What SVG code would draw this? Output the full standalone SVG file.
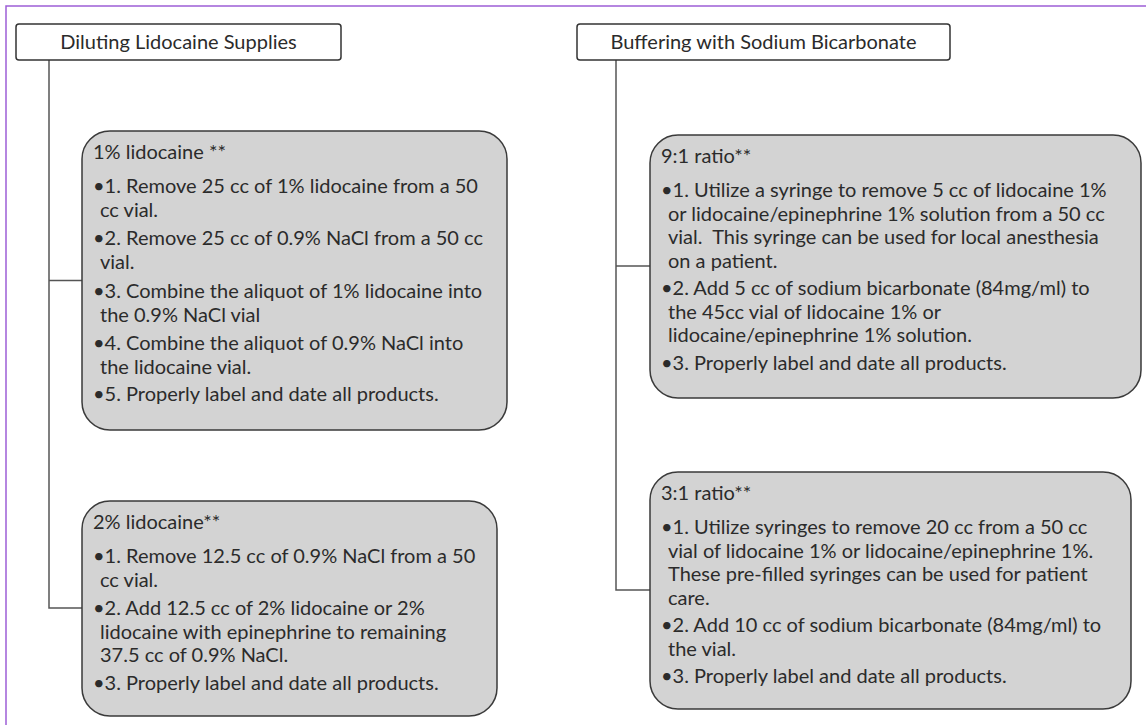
<svg xmlns="http://www.w3.org/2000/svg" width="1146" height="725" viewBox="0 0 1146 725">
<style>
.t{font-family:Lato,"Open Sans","Liberation Sans",sans-serif;font-size:20px;fill:#2b2b2b}
.hd{fill:#ffffff;stroke:#333333;stroke-width:1.5}
.bx{fill:#d3d3d3;stroke:#3a3a3a;stroke-width:1.5}
.cn{fill:none;stroke:#555555;stroke-width:1.5}
.bd{fill:none;stroke:#9d5fd6;stroke-width:1.5}
</style>
<rect x="0" y="0" width="1146" height="725" fill="#ffffff"/>
<path class="bd" d="M6,725 V6 H1146"/>
<g id="connectors">
<path class="cn" d="M49,60 V608 H82 M49,280.5 H82"/>
<path class="cn" d="M616,60 V590 H650 M616,266 H650"/>
</g>
<g id="header-left">
<rect class="hd" x="16" y="24" width="325" height="36" rx="3"/>
<text class="t" x="178.5" y="48.5" text-anchor="middle">Diluting Lidocaine Supplies</text>
</g>
<g id="header-right">
<rect class="hd" x="577" y="24" width="373" height="36" rx="3"/>
<text class="t" x="763.5" y="48.5" text-anchor="middle">Buffering with Sodium Bicarbonate</text>
</g>
<g id="box-1pct">
<rect class="bx" x="82" y="131" width="425" height="299" rx="28"/>
<text class="t" x="93" y="159">1% lidocaine **</text>
<text class="t" x="93" y="193">•1. Remove 25 cc of 1% lidocaine from a 50</text>
<text class="t" x="100" y="217">cc vial.</text>
<text class="t" x="93" y="245">•2. Remove 25 cc of 0.9% NaCl from a 50 cc</text>
<text class="t" x="100" y="269">vial.</text>
<text class="t" x="93" y="298">•3. Combine the aliquot of 1% lidocaine into</text>
<text class="t" x="100" y="322">the 0.9% NaCl vial</text>
<text class="t" x="93" y="350">•4. Combine the aliquot of 0.9% NaCl into</text>
<text class="t" x="100" y="374">the lidocaine vial.</text>
<text class="t" x="93" y="401">•5. Properly label and date all products.</text>
</g>
<g id="box-2pct">
<rect class="bx" x="82" y="501" width="415" height="215" rx="28"/>
<text class="t" x="93" y="529">2% lidocaine**</text>
<text class="t" x="93" y="563">•1. Remove 12.5 cc of 0.9% NaCl  from a 50</text>
<text class="t" x="100" y="587">cc vial.</text>
<text class="t" x="93" y="615">•2. Add 12.5 cc of 2% lidocaine or 2%</text>
<text class="t" x="100" y="639">lidocaine with epinephrine to remaining</text>
<text class="t" x="100" y="662">37.5 cc of 0.9% NaCl.</text>
<text class="t" x="93" y="690">•3. Properly label and date all products.</text>
</g>
<g id="box-9to1">
<rect class="bx" x="650" y="135" width="491" height="263" rx="28"/>
<text class="t" x="661" y="163">9:1 ratio**</text>
<text class="t" x="661" y="197">•1. Utilize a syringe to remove 5 cc of lidocaine 1%</text>
<text class="t" x="668" y="220.5">or lidocaine/epinephrine 1% solution from a 50 cc</text>
<text class="t" x="668" y="244" xml:space="preserve">vial.  This syringe can be used for local anesthesia</text>
<text class="t" x="668" y="267.5">on a patient.</text>
<text class="t" x="661" y="295">•2. Add 5 cc of sodium bicarbonate (84mg/ml) to</text>
<text class="t" x="668" y="318.5">the 45cc vial of lidocaine 1% or</text>
<text class="t" x="668" y="342">lidocaine/epinephrine 1% solution.</text>
<text class="t" x="661" y="370">•3. Properly label and date all products.</text>
</g>
<g id="box-3to1">
<rect class="bx" x="650" y="472" width="481" height="237" rx="28"/>
<text class="t" x="661" y="500">3:1 ratio**</text>
<text class="t" x="661" y="534">•1. Utilize syringes to remove 20 cc from a 50 cc</text>
<text class="t" x="668" y="557.5">vial of lidocaine 1% or lidocaine/epinephrine 1%.</text>
<text class="t" x="668" y="581">These pre-filled syringes can be used for patient</text>
<text class="t" x="668" y="604.5">care.</text>
<text class="t" x="661" y="632">•2. Add 10 cc of sodium bicarbonate (84mg/ml) to</text>
<text class="t" x="668" y="655.5">the vial.</text>
<text class="t" x="661" y="683">•3. Properly label and date all products.</text>
</g>
</svg>
